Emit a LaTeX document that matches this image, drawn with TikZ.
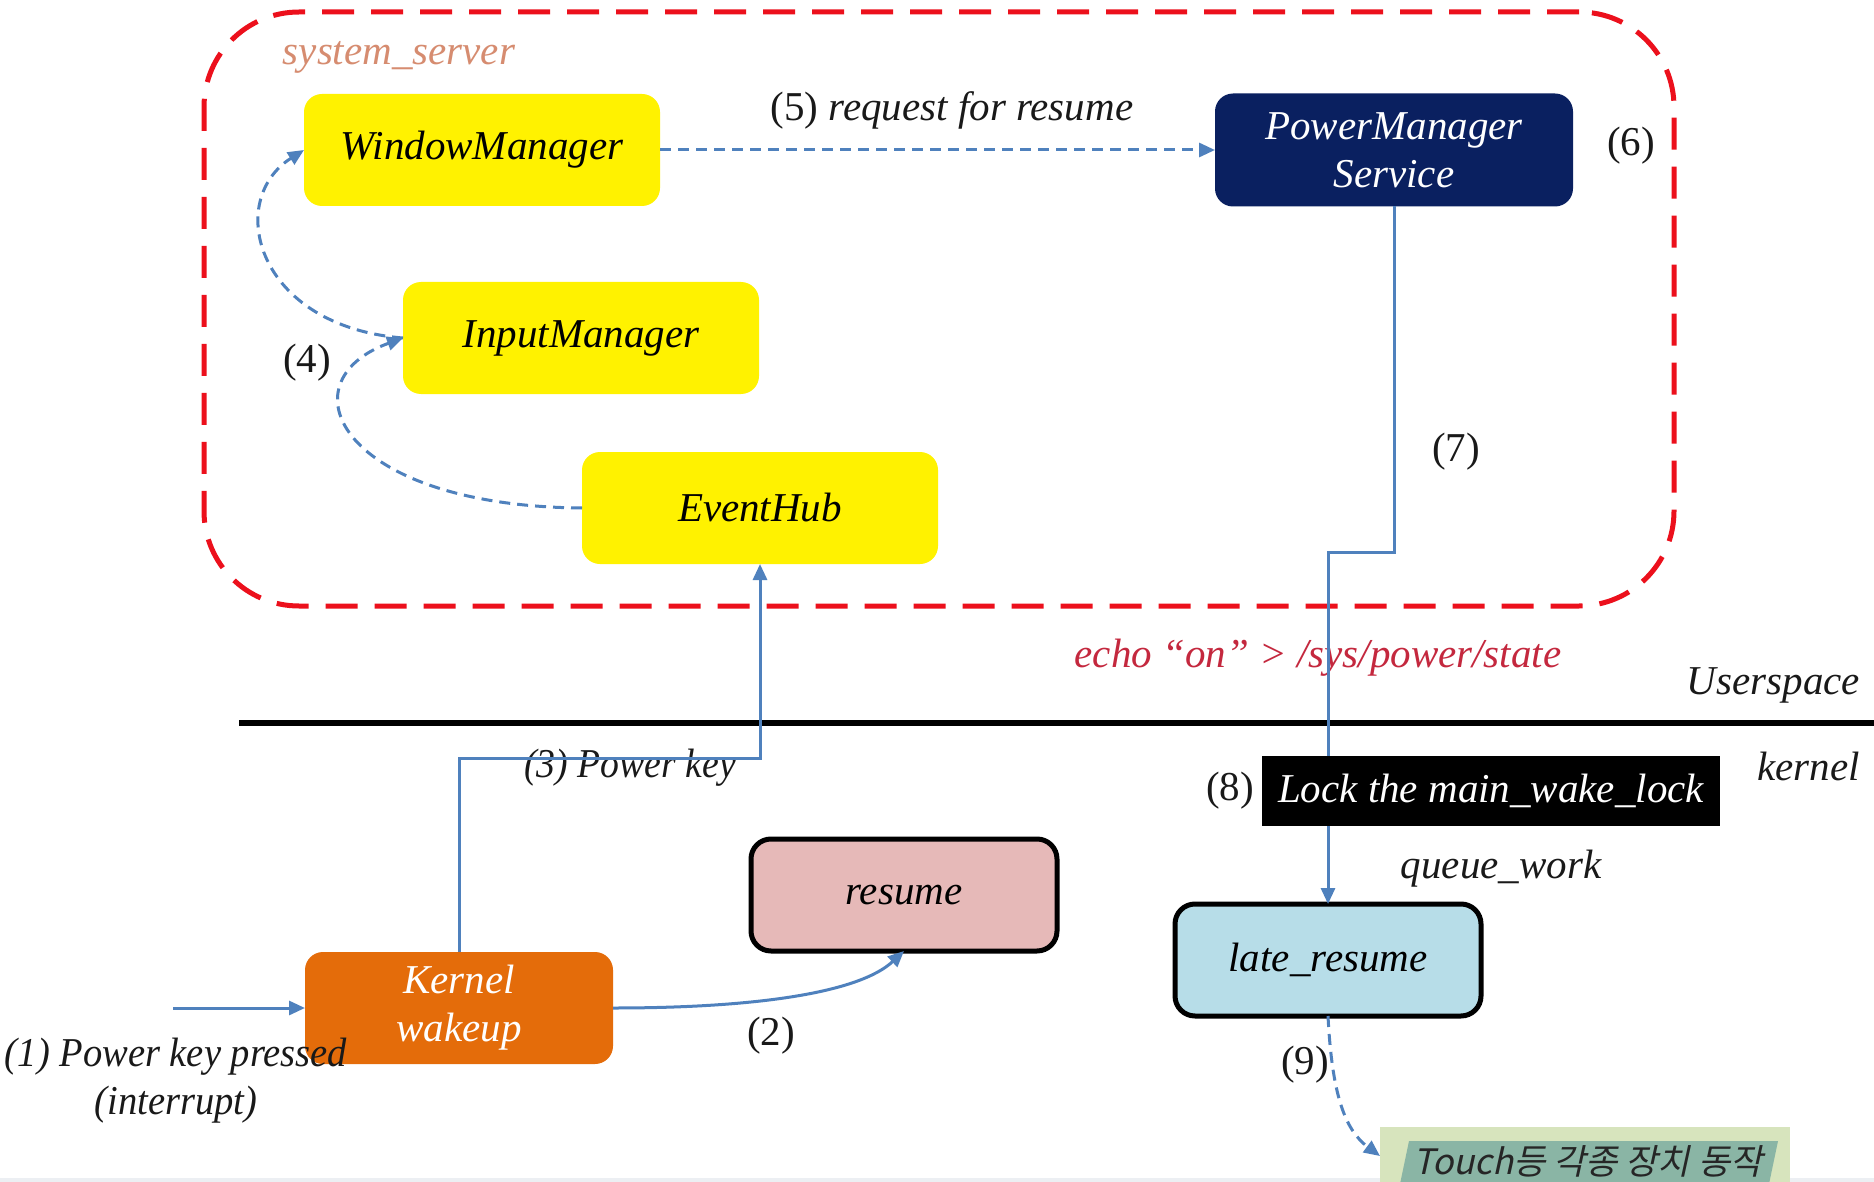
\documentclass[tikz,border=0pt]{standalone}
\usepackage{fontspec}
\setmainfont{Liberation Serif}
\newfontfamily\krfont[FakeSlant=0.22]{Noto Sans CJK KR}
\usetikzlibrary{arrows.meta}

\definecolor{linkblue}{RGB}{79,129,189}
\definecolor{framered}{RGB}{236,16,28}
\definecolor{navy}{RGB}{10,32,96}
\definecolor{kernorange}{RGB}{228,108,10}
\definecolor{resumepink}{RGB}{230,185,184}
\definecolor{lateblue}{RGB}{183,221,232}
\definecolor{salmon}{RGB}{214,140,112}
\definecolor{echored}{RGB}{196,40,62}
\definecolor{touchgreen}{RGB}{215,228,189}
\definecolor{touchteal}{RGB}{138,181,165}
\definecolor{edgegray}{RGB}{236,239,243}

\newcommand\txt{\fontsize{41}{48}\selectfont\itshape}
\newcommand\numtxt{\fontsize{41}{48}\selectfont\upshape}

\begin{document}
\begin{tikzpicture}[x=1pt,y=-1pt,
  every node/.style={inner sep=0pt, outer sep=0pt},
  ybox/.style={fill=yellow, rounded corners=18pt, minimum width=356pt, minimum height=112pt, font=\txt},
  kbox/.style={draw=black, line width=5pt, rounded corners=20pt, minimum width=306pt, minimum height=112pt, font=\txt},
  lbl/.style={font=\txt, text=black!90},
  num/.style={font=\numtxt, text=black!90},
  frame/.style={draw=framered, line width=5pt, dash pattern=on 32pt off 17pt, rounded corners=95pt},
  link/.style={draw=linkblue, line width=3pt, -{Triangle[length=16pt,width=14pt]}},
  dlink/.style={link, dash pattern=on 11pt off 7pt}
]
\useasboundingbox (0,0) rectangle (1874,1182);
\fill[white] (0,0) rectangle (1874,1182);
\fill[edgegray] (0,1178) rectangle (1874,1182);

% system_server process frame
\node[frame, minimum width=1470pt, minimum height=594pt] (sys) at (939,309) {};
\node[font=\txt, text=salmon] (sysname) at (399,57) {system\_server};

% userspace components
\node[ybox] (wm) at (482,150) {WindowManager};
\node[ybox] (im) at (581,338) {InputManager};
\node[ybox] (eh) at (760,508) {EventHub};
\node[fill=navy, rounded corners=18pt, minimum width=358pt, minimum height=113pt,
      font=\txt, text=white, align=center] (pms) at (1394,150) {PowerManager\\Service};

% userspace / kernel boundary
\coordinate (sepL) at (239,723);
\coordinate (sepR) at (1874,723);
\draw[line width=6pt] (sepL) -- (sepR);
\node[lbl, anchor=east] (us) at (1860,685) {Userspace};
\node[lbl, anchor=east] (kn) at (1860,766) {kernel};

% kernel components
\node[fill=kernorange, rounded corners=18pt, minimum width=308pt, minimum height=112pt,
      font=\txt, text=white, align=center] (kw) at (459,1008) {Kernel\\wakeup};
\node[kbox, fill=resumepink] (res) at (904,895) {resume};
\node[kbox, fill=lateblue] (late) at (1328,960) {late\_resume};

% step labels
\node[lbl] (l5) at (952,110) {{\upshape(5)} request for resume};
\node[num] (l6) at (1631,146) {(6)};
\node[num] (l4) at (307,363) {(4)};
\node[num] (l7) at (1456,452) {(7)};
\node[font=\txt, text=echored] (echo) at (1318,658) {echo “on” > /sys/power/state};
\node[lbl, xscale=0.92] (l3) at (630,768) {(3) Power key};
\node[num] (l8) at (1230,791) {(8)};
\node[lbl] (qw) at (1501,869) {queue\_work};
\node[num] (l2) at (771,1036) {(2)};
\node[lbl, align=center, xscale=0.94] (l1) at (176,1081) {(1) Power key pressed\\(interrupt)};
\node[num] (l9) at (1305,1065) {(9)};

% device activity box
\node[fill=touchgreen, minimum width=410pt, minimum height=58pt] (touch) at (1585,1156) {};
\fill[touchteal] (1409,1141) -- (1778,1141) -- (1769,1184) -- (1400,1184) -- cycle;
\node[font=\krfont\fontsize{35}{40}\selectfont, text=black!85] (touchtxt) at (1588,1161) {Touch등 각종 장치 동작};

% connectors
\coordinate (irq) at (173,1008);
\draw[link] (irq) -- (kw.west);
\draw[link] (kw.east) .. controls (760,1008) and (860,992) .. (res.south);
\draw[link] (kw.north) -- ++(0,-194) -| (eh.south);
\draw[dlink] (eh.west) .. controls (340,506) and (282,382) .. (im.west);
\draw[dlink] (im.west) .. controls (255,326) and (225,200) .. (wm.west);
\draw[dlink] (wm.east) -- (pms.west);
\draw[link] (pms.south) -- ++(0,346) -| (late.north);
\draw[dlink] (late.south) .. controls (1332,1095) and (1345,1130) .. (touch.west);

% wake lock step sits on top of the PowerManager connector
\node[fill=black, minimum width=458pt, minimum height=70pt, font=\txt, text=white] (lock) at (1491,791) {Lock the main\_wake\_lock};
\end{tikzpicture}
\end{document}
